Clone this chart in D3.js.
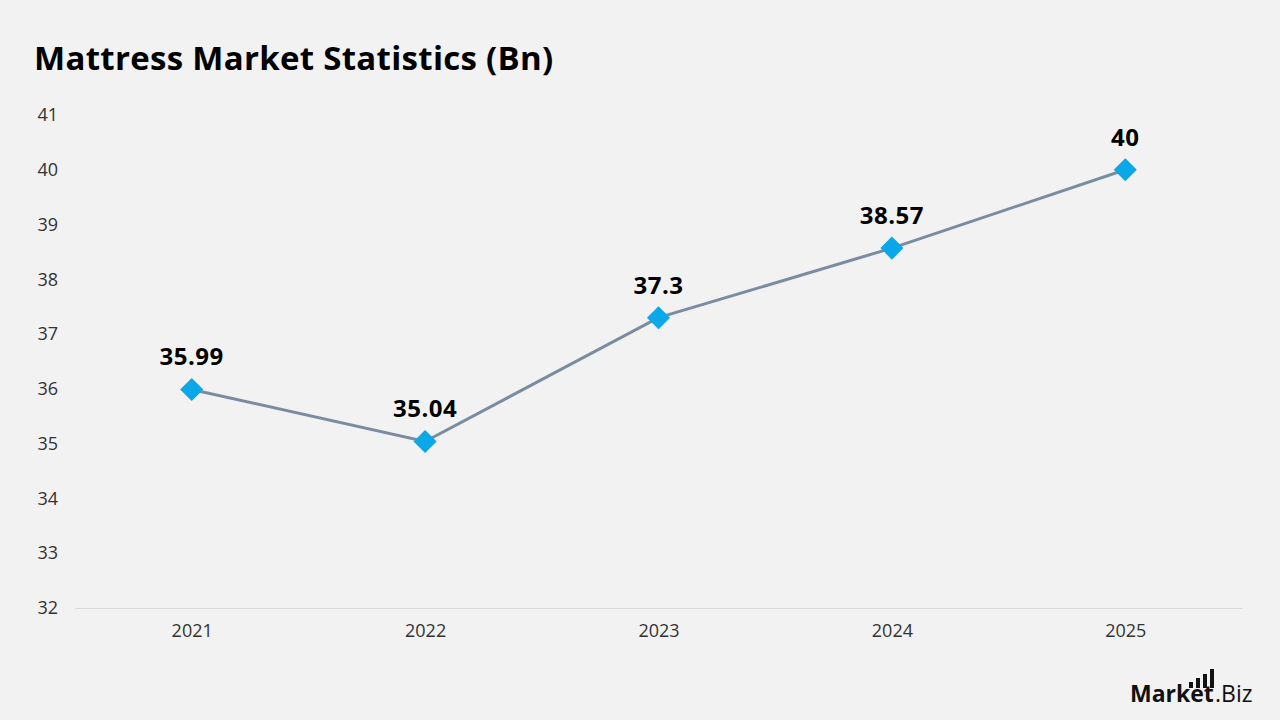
<!DOCTYPE html>
<html><head><meta charset="utf-8">
<script src="https://cdn.jsdelivr.net/npm/d3@7"></script>
<style>
html,body{margin:0;padding:0;background:#f2f2f2;}
svg{display:block;font-family:"Open Sans",sans-serif;}
</style></head>
<body>
<svg id="chart" width="1280" height="720"></svg>
<script>
const years = ["2021","2022","2023","2024","2025"];
const values = [35.99, 35.04, 37.3, 38.57, 40];
const yTicks = [32,33,34,35,36,37,38,39,40,41];

const svg = d3.select("#chart");
svg.append("rect").attr("width",1280).attr("height",720).attr("fill","#f2f2f2");

svg.append("text").attr("x",34).attr("y",70)
  .attr("font-size",33).attr("font-weight",700).attr("fill","#000")
  .attr("letter-spacing",0.3)
  .text("Mattress Market Statistics (Bn)");

const x = d3.scalePoint().domain(years).range([75,1242]).padding(0.5);
const y = d3.scaleLinear().domain([32,41]).range([608,115]);

// x axis
const xa = svg.append("g").attr("transform","translate(0,608)")
  .call(d3.axisBottom(x).tickSize(0).tickPadding(16));
xa.select(".domain").attr("stroke","#d9d9d9").attr("stroke-width",1);
xa.selectAll("text").attr("font-size",18).attr("fill","#333").attr("font-family","Open Sans");

// y axis
const ya = svg.append("g").attr("transform","translate(58,0)")
  .call(d3.axisLeft(y).tickValues(yTicks).tickSize(0).tickPadding(0));
ya.select(".domain").remove();
ya.selectAll("text").attr("font-size",18).attr("fill","#333").attr("font-family","Open Sans");

const data = years.map((d,i)=>({year:d,value:values[i]}));
svg.append("path").datum(data)
  .attr("fill","none").attr("stroke","#7a8ca0").attr("stroke-width",3)
  .attr("d", d3.line().x(d=>x(d.year)).y(d=>y(d.value)));

svg.selectAll(".mk").data(data).enter().append("path")
  .attr("class","mk")
  .attr("transform",d=>`translate(${x(d.year)},${y(d.value)})`)
  .attr("d", d3.symbol().type(d3.symbolDiamond2).size(340))
  .attr("fill","#0aa8e8");

svg.selectAll(".lbl").data(data).enter().append("text")
  .attr("class","lbl")
  .attr("x",d=>x(d.year)).attr("y",d=>y(d.value)-24)
  .attr("text-anchor","middle").attr("font-size",24).attr("font-weight",700)
  .attr("letter-spacing",0.5)
  .attr("fill","#000")
  .text(d=>d.value);

// logo
const logo = svg.append("g");
logo.append("text").attr("x",1130).attr("y",702).attr("font-size",23).attr("font-weight",700)
  .attr("fill","#111").text("Market");
logo.append("text").attr("x",1215).attr("y",702).attr("font-size",23).attr("font-weight",400)
  .attr("fill","#111").text(".Biz");
const bars=[[1189,682],[1196,678],[1203,674],[1210,669]];
bars.forEach(b=>logo.append("rect").attr("x",b[0]).attr("y",b[1]).attr("width",4).attr("height",688-b[1]).attr("fill","#111"));
</script>
</body></html>
